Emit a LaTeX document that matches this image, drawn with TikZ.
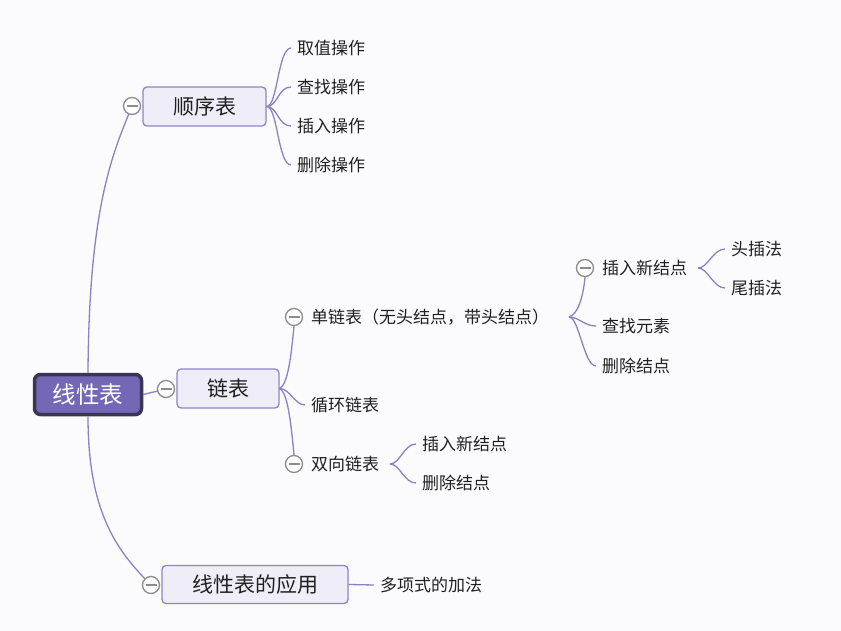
\documentclass[tikz,border=0pt]{standalone}
\usepackage{fontspec}
\setmainfont{Noto Sans CJK SC}
\definecolor{lnk}{HTML}{8A82C2}
\definecolor{boxfill}{HTML}{EFEEF8}
\definecolor{boxdraw}{HTML}{8C85C5}
\definecolor{rootfill}{HTML}{7468B6}
\definecolor{rootdraw}{HTML}{3A3555}
\definecolor{circ}{HTML}{8C8C8C}
\definecolor{txt}{HTML}{202020}
\definecolor{bg}{HTML}{FBFBFD}
\begin{document}
\begin{tikzpicture}[x=1pt,y=-1pt,
  rootbox/.style={draw=rootdraw, line width=3.5pt, fill=rootfill, rounded corners=6pt,
    text=white, font=\fontsize{23.5}{27}\selectfont, inner sep=0,
    minimum width=107pt, minimum height=40pt},
  mainbox/.style={draw=boxdraw, line width=1.3pt, fill=boxfill, rounded corners=4pt,
    font=\fontsize{21}{24}\selectfont, text=txt, inner sep=0},
  leaf/.style={anchor=west, inner xsep=6pt, inner ysep=2pt,
    font=\fontsize{17}{20}\selectfont, text=txt},
  fold/.style={circle, draw=circ, line width=1.3pt, fill=white, minimum size=17pt, inner sep=0,
    path picture={\draw[circ, line width=1.3pt]
      ([xshift=-5.5pt]path picture bounding box.center) --
      ([xshift=5.5pt]path picture bounding box.center);}},
  link/.style={draw=lnk, line width=1.3pt}
]
\fill[bg] (0,0) rectangle (841,631);
\useasboundingbox (0,0) rectangle (841,631);

% root and main branches
\node[rootbox] (root) at (88,394.5) {线性表};
\node[mainbox, minimum width=123pt, minimum height=39pt] (sx) at (204.5,106.5) {顺序表};
\node[mainbox, minimum width=102pt, minimum height=39pt] (lb) at (228,388.5) {链表};
\node[mainbox, minimum width=186pt, minimum height=38pt] (yy) at (255,584.5) {线性表的应用};

% connectors from root
\draw[link] (root.north) .. controls +(1,-170) and +(-18,45) .. (132,106);
\draw[link] (root.south) .. controls +(0,95) and +(-35,-35) .. (151,585);
\draw[link] (root.east) -- (166,389);

% leaves of 顺序表
\node[leaf] (a1) at (291,48) {取值操作};
\node[leaf] (a2) at (291,87) {查找操作};
\node[leaf] (a3) at (291,126) {插入操作};
\node[leaf] (a4) at (291,165) {删除操作};
\foreach \n in {a1,a2,a3,a4}
  \draw[link] (sx.east) .. controls +(11,0) and +(-13,0) .. (\n.west);

% children of 链表
\node[leaf] (s1) at (305,317) {单链表（无头结点，带头结点）};
\node[leaf] (s2) at (305,405) {循环链表};
\node[leaf] (s3) at (305,464) {双向链表};
\node[fold] (c4) at (294,317) {};
\node[fold] (c6) at (294,464) {};
\draw[link] (lb.east) .. controls +(8,-4) and +(-3,32) .. (c4.south);
\draw[link] (lb.east) .. controls +(10,0) and +(-10,0) .. (s2.west);
\draw[link] (lb.east) .. controls +(8,4) and +(-3,-32) .. (c6.north);

% children of 单链表
\coordinate (h1) at (569,317);
\node[leaf] (t1) at (596,268) {插入新结点};
\node[leaf] (t2) at (596,326) {查找元素};
\node[leaf] (t3) at (596,366) {删除结点};
\node[fold] (c5) at (585,268) {};
\draw[link] (h1) .. controls +(8,-2) and +(-2,22) .. (c5.south);
\draw[link] (h1) .. controls +(10,0) and +(-12,0) .. (t2.west);
\draw[link] (h1) .. controls +(10,0) and +(-12,0) .. (t3.west);

% children of 插入新结点
\coordinate (h2) at (698,268);
\node[leaf] (u1) at (725,249) {头插法};
\node[leaf] (u2) at (725,288) {尾插法};
\draw[link] (h2) .. controls +(10,0) and +(-12,0) .. (u1.west);
\draw[link] (h2) .. controls +(10,0) and +(-12,0) .. (u2.west);

% children of 双向链表
\coordinate (h3) at (390,464);
\node[leaf] (v1) at (416,444) {插入新结点};
\node[leaf] (v2) at (416,483) {删除结点};
\draw[link] (h3) .. controls +(10,0) and +(-12,0) .. (v1.west);
\draw[link] (h3) .. controls +(10,0) and +(-12,0) .. (v2.west);

% 线性表的应用
\node[leaf] (w1) at (374,585) {多项式的加法};
\draw[link] (yy.east) -- (w1.west);

% fold markers drawn on top
\node[fold] (c1) at (132,106) {};
\node[fold] (c2) at (166,389) {};
\node[fold] (c3) at (151,585) {};
\end{tikzpicture}
\end{document}
